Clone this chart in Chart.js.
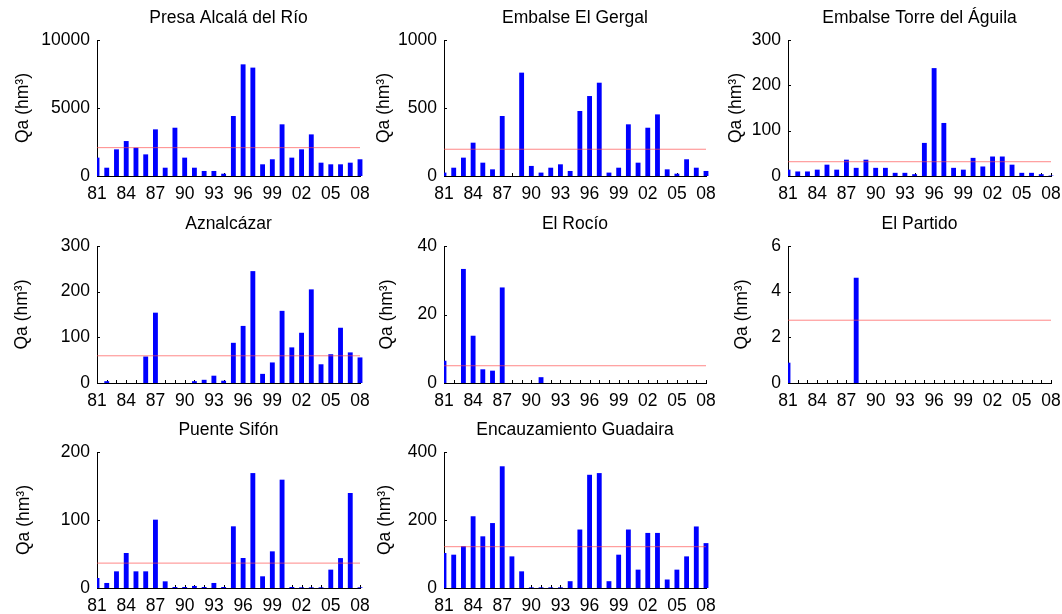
<!DOCTYPE html>
<html>
<head>
<meta charset="utf-8">
<script src="https://cdn.jsdelivr.net/npm/chart.js@4.4.1/dist/chart.umd.min.js"></script>
<style>
  html, body { margin: 0; padding: 0; background: #fff; }
  #fig { position: relative; width: 1062px; height: 614px; overflow: hidden; background: #fff; }
  #fig canvas { position: absolute; }
</style>
</head>
<body>
<div id="fig"></div>
<script>
// Hydrological years 1981–2008
const years = [1981, 1982, 1983, 1984, 1985, 1986, 1987, 1988, 1989, 1990,
               1991, 1992, 1993, 1994, 1995, 1996, 1997, 1998, 1999, 2000,
               2001, 2002, 2003, 2004, 2005, 2006, 2007, 2008];
const tickYears = [1981, 1984, 1987, 1990, 1993, 1996, 1999, 2002, 2005, 2008];

// Annual discharge Qa (hm³) per gauging station
const presaAlcala = [1350, 610, 1960, 2570, 2080, 1590, 3430, 610, 3550, 1350,
                     610, 370, 370, 170, 4410, 8210, 7970, 860, 1230, 3800,
                     1350, 1960, 3060, 980, 860, 860, 980, 1230];
const elGergal = [25, 61, 135, 245, 98, 49, 441, 0, 760, 74,
                  25, 61, 86, 37, 478, 588, 686, 25, 61, 380,
                  98, 355, 453, 49, 17, 123, 61, 37];
const torreAguila = [14, 10, 10, 14, 25, 14, 36, 18, 36, 18,
                     18, 7, 7, 4, 73, 238, 117, 18, 14, 40,
                     21, 43, 43, 25, 7, 7, 4, 1];
const aznalcazar = [0, 4, 0, 0, 0, 58, 154, 0, 0, 0,
                    4, 7, 16, 5, 88, 125, 245, 20, 45, 158,
                    78, 110, 205, 41, 63, 121, 67, 56];
const elRocio = [6.5, 0, 33.3, 13.8, 4.0, 3.6, 27.9, 0, 0, 0,
                 1.7, 0, 0, 0, 0, 0, 0, 0, null, null,
                 null, null, null, null, null, null, null, null];
const elPartido = [0.89, 0, 0, 0, 0, 0, 0, 4.61, 0, 0,
                   0, 0, 0, 0, 0, 0, 0, null, null, null,
                   null, null, null, null, null, null, null, null];
const puenteSifon = [14.7, 7.4, 24.5, 51.5, 24.5, 24.5, 100.5, 9.8, 1.5, 1.5,
                     3, 1.5, 7.4, 1.5, 90.7, 44.1, 169, 17.2, 53.9, 159.3,
                     1.5, 1, 1, 1, 27, 44, 139.7, 1];
const guadaira = [103, 98, 123, 211, 152, 191, 358, 93, 49, 2,
                  2, 2, 2, 20, 172, 333, 338, 20, 98, 172,
                  54, 162, 162, 25, 54, 93, 181, 132];

const stationNames = ['Presa Alcalá del Río', 'Embalse El Gergal', 'Embalse Torre del Águila',
                      'Aznalcázar', 'El Rocío', 'El Partido',
                      'Puente Sifón', 'Encauzamiento Guadaira'];
const stationSeries = [presaAlcala, elGergal, torreAguila, aznalcazar,
                       elRocio, elPartido, puenteSifon, guadaira];
// Mean annual discharge (horizontal reference line)
const stationMeans = [2085, 196.7, 31.5, 59.6, 5.04, 2.75, 36.6, 121.5];
// Value-axis ranges
const yMaxValues = [10000, 1000, 300, 300, 40, 6, 200, 400];
const yStepValues = [5000, 500, 100, 100, 20, 2, 100, 200];

// Figure layout (pixels): plot-area edges per column / row
const colLeft = [97, 444, 788];
const colRight = [360, 706, 1051];
const rowTop = [40, 246, 452];
const rowBottom = [176, 383, 588];
const panelCol = [0, 1, 2, 0, 1, 2, 0, 1];
const panelRow = [0, 0, 0, 1, 1, 1, 2, 2];
const yLabelCenter = [23, 384, 736, 22, 387, 742, 24, 385];

const FONT = "'Liberation Sans', Arial, Helvetica, sans-serif";
const FS = 17.5;
Chart.defaults.font.family = FONT;
Chart.defaults.color = '#000';

const TITLE_H = 40;   // space above plot area for the panel title
const XAXIS_H = 26;   // space below plot area for year labels
const PAD_R = 22;     // room for the last year label and the overhanging 2008 bar

// Small inward tick marks on both axes, MATLAB style
const inwardTicks = {
  id: 'inwardTicks',
  beforeDatasetsDraw(chart) {
    const { ctx, scales: { x, y } } = chart;
    ctx.save();
    ctx.strokeStyle = '#000';
    ctx.lineWidth = 1;
    ctx.beginPath();
    x.ticks.forEach(t => {
      const px = Math.round(x.getPixelForValue(t.value)) + 0.5;
      ctx.moveTo(px, y.bottom);
      ctx.lineTo(px, y.bottom - 3);
    });
    y.ticks.forEach(t => {
      const py = Math.round(y.getPixelForValue(t.value)) + 0.5;
      ctx.moveTo(x.left, py);
      ctx.lineTo(x.left + 3, py);
    });
    ctx.stroke();
    ctx.restore();
  }
};

const fig = document.getElementById('fig');

stationNames.forEach((name, i) => {
  const c = panelCol[i], r = panelRow[i];
  const plotW = colRight[c] - colLeft[c];
  const plotH = rowBottom[r] - rowTop[r];
  const canvasLeft = yLabelCenter[i] - 10;
  const axisW = colLeft[c] - canvasLeft;
  const W = axisW + plotW + PAD_R;
  const H = TITLE_H + plotH + XAXIS_H;

  const canvas = document.createElement('canvas');
  canvas.width = W;
  canvas.height = H;
  canvas.style.left = canvasLeft + 'px';
  canvas.style.top = (rowTop[r] - TITLE_H) + 'px';
  canvas.style.width = W + 'px';
  canvas.style.height = H + 'px';
  fig.appendChild(canvas);

  const values = stationSeries[i];
  const mean = stationMeans[i];

  new Chart(canvas, {
    type: 'bar',
    data: {
      datasets: [
        {
          type: 'line',
          data: [{ x: years[0], y: mean }, { x: years[years.length - 1], y: mean }],
          borderColor: 'rgba(255, 70, 70, 0.65)',
          borderWidth: 1,
          pointRadius: 0,
          fill: false,
          order: 0
        },
        {
          type: 'bar',
          data: years.map((yr, k) => ({ x: yr, y: values[k] })),
          backgroundColor: '#0000ff',
          borderWidth: 0,
          barPercentage: 0.5,
          categoryPercentage: 1.0,
          clip: { left: 0, top: false, right: 8, bottom: 0 },
          order: 1
        }
      ]
    },
    options: {
      responsive: false,
      animation: false,
      devicePixelRatio: 1,
      layout: { padding: { left: 0, right: PAD_R, top: 0, bottom: 0 } },
      plugins: {
        legend: { display: false },
        tooltip: { enabled: false },
        title: {
          display: true,
          text: name,
          fullSize: false,
          color: '#000',
          font: { size: FS, weight: 'normal', lineHeight: '20px' },
          padding: { top: 8, bottom: 12 }
        }
      },
      scales: {
        x: {
          type: 'linear',
          min: years[0],
          max: years[years.length - 1],
          offset: false,
          grid: { display: false, drawTicks: false, offset: false },
          border: { display: true, color: '#000', width: 1 },
          afterBuildTicks: scale => { scale.ticks = years.map(v => ({ value: v })); },
          afterFit: scale => { scale.height = XAXIS_H; },
          ticks: {
            autoSkip: false,
            maxRotation: 0,
            minRotation: 0,
            padding: 8,
            color: '#000',
            font: { size: FS },
            callback: v => tickYears.includes(v) ? String(v).slice(2) : ''
          }
        },
        y: {
          type: 'linear',
          min: 0,
          max: yMaxValues[i],
          grid: { display: false, drawTicks: false },
          border: { display: true, color: '#000', width: 1 },
          afterFit: scale => { scale.width = axisW; },
          ticks: {
            stepSize: yStepValues[i],
            padding: 7,
            color: '#000',
            font: { size: FS },
            callback: v => String(v)
          },
          title: {
            display: true,
            text: 'Qa (hm³)',
            color: '#000',
            font: { size: FS, lineHeight: '20px' },
            padding: { top: 0, bottom: 0 }
          }
        }
      }
    },
    plugins: [inwardTicks]
  });
});
</script>
</body>
</html>
